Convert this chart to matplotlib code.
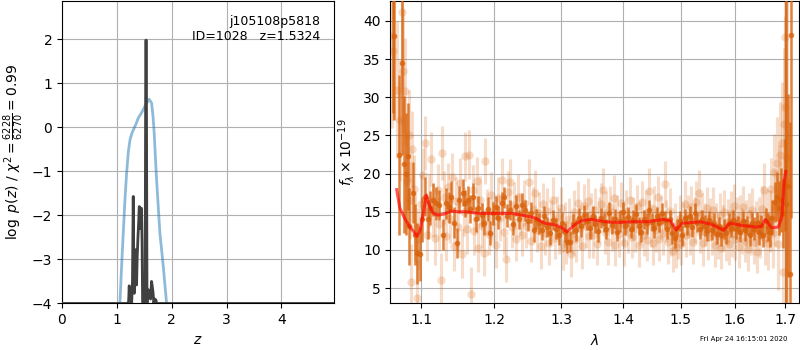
import numpy as np
import matplotlib
matplotlib.use("Agg")
import matplotlib.pyplot as plt
from matplotlib.ticker import NullLocator

# --- p(z) panel ---
z_pz = [0.0, 1.20, 1.215, 1.226, 1.235, 1.27, 1.285, 1.299, 1.31, 1.317, 1.33,
        1.342, 1.35, 1.36, 1.37, 1.385, 1.40, 1.408, 1.42, 1.43, 1.44, 1.45,
        1.46, 1.47, 1.515, 1.528, 1.537, 1.55, 1.56, 1.572, 1.585, 1.60,
        1.615, 1.633, 1.645, 1.66, 1.675, 1.69, 1.712, 1.725, 4.96]
logpz = [-4, -4, -3.95, -3.6, -4, -4, -3.5, -1.57, -3.2, -3.77, -3.4,
         -2.78, -3.3, -3.58, -3.0, -2.5, -2.1, -1.80, -1.82, -2.3, -1.85, -1.84,
         -2.6, -4, -4, 1.98, 1.98, -4, -3.8, -3.69, -3.75, -3.7,
         -3.9, -3.5, -3.6, -3.75, -4, -3.9, -3.92, -4, -4]

z_chi = [1.03, 1.056, 1.085, 1.117, 1.15, 1.178, 1.21, 1.239, 1.27, 1.30, 1.35,
         1.39, 1.44, 1.48, 1.54, 1.59, 1.634, 1.66, 1.681, 1.70, 1.725, 1.755,
         1.785, 1.85, 1.907, 1.93]
chi_scaled = [-4.8, -4.0, -3.2, -2.40, -1.6, -1.04, -0.55, -0.29, -0.15, -0.06, 0.08,
              0.21, 0.31, 0.40, 0.55, 0.64, 0.55, 0.25, -0.13, -0.6, -1.19, -1.8,
              -2.40, -3.2, -4.0, -4.4]

# --- spectrum panel ---
model_lam = [1.068, 1.072, 1.078, 1.085, 1.090, 1.0942, 1.098, 1.102, 1.1066, 1.110,
             1.115, 1.120, 1.125, 1.130, 1.140, 1.150, 1.160, 1.170, 1.180, 1.195,
             1.210, 1.225, 1.245, 1.260, 1.275, 1.290, 1.300, 1.309, 1.316, 1.3245,
             1.335, 1.3485, 1.370, 1.390, 1.4172, 1.440, 1.469, 1.482, 1.4915, 1.502,
             1.520, 1.535, 1.555, 1.570, 1.579, 1.591, 1.600, 1.615, 1.630, 1.643,
             1.652, 1.6596, 1.666, 1.672, 1.686, 1.693, 1.698, 1.701]
model_flux = [17.9, 15.5, 14.2, 13.0, 12.4, 11.8, 12.5, 14.5, 17.2, 16.0,
              14.9, 14.6, 14.6, 14.7, 15.1, 15.0, 15.0, 14.9, 14.8, 14.8,
              14.8, 14.8, 14.5, 14.2, 13.5, 13.3, 13.0, 12.4, 12.9, 13.5,
              13.9, 14.0, 13.7, 13.6, 13.7, 13.7, 14.0, 13.8, 12.6, 13.5,
              13.6, 13.7, 13.4, 12.9, 12.6, 13.5, 13.4, 13.2, 13.1, 13.0,
              13.1, 14.0, 13.5, 12.9, 13.0, 14.4, 19.2, 20.3]

bin_lam = [1.0628, 1.0650, 1.0705, 1.0747, 1.0778, 1.0799, 1.0821, 1.0843, 1.0886, 1.0915,
           1.0942, 1.0977, 1.1010, 1.1052, 1.1092, 1.1120, 1.1150, 1.1193, 1.1240, 1.1283,
           1.1329, 1.1374, 1.1395, 1.1443, 1.1478, 1.1513, 1.1557, 1.1589, 1.1627, 1.1663,
           1.1698, 1.1743, 1.1778, 1.1823, 1.1862, 1.1908, 1.1942, 1.1979, 1.2020, 1.2060,
           1.2107, 1.2150, 1.2190, 1.2235, 1.2275, 1.2320, 1.2360, 1.2405, 1.2450, 1.2490,
           1.2535, 1.2580, 1.2620, 1.2665, 1.2702, 1.2745, 1.2790, 1.2835, 1.2880, 1.2925,
           1.2970, 1.3015, 1.3060, 1.3100, 1.3140, 1.3185, 1.3230, 1.3275, 1.3320, 1.3365,
           1.3410, 1.3455, 1.3500, 1.3545, 1.3590, 1.3635, 1.3680, 1.3725, 1.3770, 1.3815,
           1.3860, 1.3905, 1.3950, 1.3995, 1.4040, 1.4085, 1.4130, 1.4175, 1.4220, 1.4265,
           1.4310, 1.4355, 1.4400, 1.4445, 1.4490, 1.4535, 1.4580, 1.4625, 1.4670, 1.4715,
           1.4760, 1.4805, 1.4850, 1.4895, 1.4940, 1.4985, 1.5030, 1.5075, 1.5120, 1.5165,
           1.5210, 1.5255, 1.5300, 1.5345, 1.5390, 1.5435, 1.5480, 1.5525, 1.5570, 1.5615,
           1.5660, 1.5705, 1.5750, 1.5795, 1.5840, 1.5885, 1.5930, 1.5975, 1.6020, 1.6065,
           1.6110, 1.6155, 1.6200, 1.6245, 1.6290, 1.6335, 1.6380, 1.6425, 1.6470, 1.6515,
           1.6560, 1.6605, 1.6650, 1.6695, 1.6740, 1.6785, 1.6830, 1.6870, 1.6910, 1.6950,
           1.6990, 1.7010, 1.7065, 1.7100, 1.7125]
bin_flux = [44.0, 38.0, 22.4, 34.5, 21.2, 19.9, 22.3, 13.1, 17.5, 12.0,
            9.6, 9.5, 14.0, 17.0, 14.0, 15.5, 16.6, 16.1, 15.9, 12.0,
            16.1, 15.6, 17.0, 13.6, 10.9, 16.6, 17.5, 16.1, 16.6, 15.4,
            17.0, 14.0, 15.5, 14.6, 13.5, 15.4, 12.2, 14.8, 15.6, 14.2,
            16.1, 16.9, 14.5, 15.2, 13.4, 15.8, 14.0, 15.9, 15.2, 13.8,
            14.9, 12.6, 14.1, 13.5, 12.6, 14.4, 13.0, 12.2, 13.9, 12.8,
            11.9, 13.6, 12.3, 11.1, 11.1, 13.4, 12.6, 14.2, 13.1, 14.6,
            13.8, 12.9, 14.5, 13.4, 12.5, 14.2, 13.6, 12.7, 14.9, 13.3,
            14.1, 12.4, 13.8, 15.0, 13.2, 14.3, 12.8, 13.9, 14.7, 13.1,
            12.4, 14.0, 13.5, 15.2, 13.7, 12.9, 14.4, 13.6, 14.8, 13.9,
            12.8, 14.1, 12.2, 11.6, 12.9, 13.8, 11.9, 14.2, 13.3, 14.5,
            13.0, 14.8, 13.6, 12.7, 14.0, 13.2, 12.5, 13.9, 12.6, 13.4,
            12.1, 13.1, 11.9, 12.8, 12.2, 13.6, 12.9, 13.9, 12.7, 13.3,
            12.4, 13.8, 12.6, 13.2, 12.0, 13.5, 12.8, 13.6, 12.3, 13.1,
            12.0, 13.8, 13.0, 12.4, 14.2, 16.3, 17.0, 15.5, 16.5, 14.8,
            18.5, 16.0, 18.4, 6.8, 38.2]
bin_err = [16.0, 11.0, 10.5, 12.0, 9.0, 8.0, 7.0, 5.0, 4.0, 4.0,
           4.0, 3.5, 3.0, 2.5, 2.5, 2.2, 2.2, 2.2, 2.0, 2.0,
           2.0, 2.0, 2.0, 2.0, 2.0, 1.8, 1.8, 1.8, 1.8, 1.8,
           1.8, 1.6, 1.6, 1.6, 1.6, 1.6, 1.6, 1.5, 1.5, 1.5,
           1.5, 1.4, 1.5, 1.3, 1.5, 1.4, 1.3, 1.5, 1.4, 1.3,
           1.4, 1.5, 1.3, 1.4, 1.3, 1.4, 1.3, 1.5, 1.3, 1.4,
           1.3, 1.4, 1.3, 1.5, 1.4, 1.3, 1.4, 1.3, 1.4, 1.3,
           1.2, 1.4, 1.3, 1.2, 1.4, 1.3, 1.2, 1.3, 1.4, 1.2,
           1.3, 1.2, 1.4, 1.3, 1.2, 1.3, 1.2, 1.4, 1.3, 1.2,
           1.3, 1.2, 1.4, 1.3, 1.2, 1.3, 1.2, 1.3, 1.4, 1.2,
           1.3, 1.2, 1.4, 1.3, 1.2, 1.3, 1.4, 1.2, 1.3, 1.2,
           1.3, 1.4, 1.2, 1.3, 1.2, 1.4, 1.3, 1.2, 1.3, 1.4,
           1.3, 1.2, 1.4, 1.3, 1.4, 1.3, 1.2, 1.4, 1.3, 1.2,
           1.4, 1.3, 1.4, 1.3, 1.5, 1.4, 1.5, 1.4, 1.6, 1.5,
           1.6, 1.7, 1.8, 2.0, 2.3, 2.6, 3.2, 3.6, 4.2, 4.5,
           6.0, 30.0, 12.0, 20.0, 24.0]

raw_lam = [1.0615, 1.0630, 1.0690, 1.0725, 1.0753, 1.0762, 1.0786, 1.0810, 1.0835, 1.0850,
           1.0869, 1.0876, 1.0900, 1.0920, 1.0942, 1.0960, 1.0990, 1.1020, 1.1054, 1.1075,
           1.1100, 1.1130, 1.1160, 1.1185, 1.1215, 1.1240, 1.1257, 1.1270, 1.1300, 1.1325,
           1.1350, 1.1380, 1.1410, 1.1435, 1.1460, 1.1490, 1.1520, 1.1545, 1.1570, 1.1591,
           1.1615, 1.1640, 1.1670, 1.1695, 1.1720, 1.1750, 1.1775, 1.1800, 1.1830, 1.1855,
           1.1872, 1.1900, 1.1930, 1.1960, 1.1990, 1.2020, 1.2050, 1.2080, 1.2110, 1.2140,
           1.2177, 1.2200, 1.2230, 1.2260, 1.2290, 1.2320, 1.2350, 1.2380, 1.2410, 1.2440,
           1.2470, 1.2515, 1.2545, 1.2575, 1.2605, 1.2635, 1.2665, 1.2695, 1.2725, 1.2755,
           1.2785, 1.2815, 1.2845, 1.2875, 1.2905, 1.2935, 1.2965, 1.2995, 1.3025, 1.3055,
           1.3085, 1.3120, 1.3154, 1.3180, 1.3210, 1.3240, 1.3270, 1.3300, 1.3330, 1.3360,
           1.3390, 1.3420, 1.3450, 1.3480, 1.3510, 1.3540, 1.3570, 1.3600, 1.3630, 1.3665,
           1.3695, 1.3725, 1.3755, 1.3785, 1.3815, 1.3845, 1.3875, 1.3905, 1.3935, 1.3965,
           1.3995, 1.4025, 1.4055, 1.4085, 1.4115, 1.4145, 1.4175, 1.4205, 1.4235, 1.4265,
           1.4295, 1.4325, 1.4355, 1.4385, 1.4415, 1.4445, 1.4475, 1.4505, 1.4535, 1.4565,
           1.4595, 1.4625, 1.4655, 1.4685, 1.4715, 1.4745, 1.4775, 1.4805, 1.4835, 1.4865,
           1.4895, 1.4925, 1.4955, 1.4985, 1.5015, 1.5045, 1.5075, 1.5105, 1.5135, 1.5165,
           1.5195, 1.5225, 1.5255, 1.5285, 1.5325, 1.5355, 1.5385, 1.5415, 1.5445, 1.5475,
           1.5505, 1.5535, 1.5565, 1.5595, 1.5625, 1.5655, 1.5685, 1.5715, 1.5745, 1.5775,
           1.5805, 1.5835, 1.5865, 1.5895, 1.5925, 1.5955, 1.5985, 1.6015, 1.6045, 1.6075,
           1.6105, 1.6135, 1.6165, 1.6195, 1.6225, 1.6255, 1.6285, 1.6315, 1.6345, 1.6375,
           1.6405, 1.6435, 1.6465, 1.6495, 1.6525, 1.6566, 1.6595, 1.6625, 1.6655, 1.6685,
           1.6715, 1.6745, 1.6775, 1.6800, 1.6825, 1.6850, 1.6875, 1.6900, 1.6925, 1.6945,
           1.6965, 1.6985, 1.6995, 1.7015, 1.7040]
raw_flux = [38.0, 36.0, 31.0, 27.0, 41.2, 33.5, 30.8, 19.0, 25.0, 16.5,
            5.8, 23.2, 18.0, 13.0, 3.7, 11.5, 16.0, 19.8, 24.0, 12.0,
            16.5, 21.9, 15.2, 11.6, 17.8, 13.4, 6.1, 22.7, 16.9, 11.8,
            18.2, 14.1, 19.5, 10.5, 16.4, 13.0, 18.8, 9.5, 15.0, 22.3,
            12.7, 22.5, 4.3, 17.9, 12.5, 19.0, 10.3, 16.5, 13.2, 9.6,
            21.7, 15.0, 12.1, 17.2, 13.8, 10.6, 16.8, 14.2, 19.2, 12.3,
            8.8, 17.6, 18.9, 13.0, 15.9, 11.4, 17.0, 14.6, 12.0, 16.2,
            13.1, 18.9, 11.2, 15.4, 17.5, 12.6, 14.8, 10.5, 16.0, 12.2,
            15.1, 10.9, 13.7, 16.6, 11.6, 14.3, 12.5, 15.5, 10.2, 13.3,
            11.0, 14.0, 9.5, 12.2, 15.0, 11.4, 16.2, 12.9, 10.5, 15.8,
            13.1, 16.4, 11.8, 14.6, 12.0, 15.3, 10.8, 13.9, 16.0, 17.8,
            12.3, 14.9, 11.1, 15.6, 12.7, 16.8, 10.7, 14.4, 12.1, 16.1,
            13.4, 10.9, 15.0, 12.4, 16.5, 11.7, 14.1, 12.8, 15.7, 10.6,
            13.6, 16.3, 12.0, 14.8, 11.3, 17.7, 13.2, 10.9, 15.4, 12.6,
            16.9, 11.5, 14.3, 12.2, 18.6, 13.8, 11.0, 15.1, 12.0, 9.9,
            13.1, 10.4, 11.6, 14.2, 10.8, 13.5, 16.0, 11.9, 14.4, 12.3,
            15.6, 11.0, 13.9, 16.3, 17.5, 12.4, 14.7, 10.9, 13.3, 15.5,
            11.7, 14.0, 12.2, 15.2, 10.6, 13.4, 11.8, 14.6, 10.3, 12.9,
            15.0, 11.4, 13.7, 10.8, 14.9, 12.1, 15.8, 11.5, 13.9, 10.4,
            14.4, 12.5, 15.6, 11.2, 13.5, 10.1, 14.7, 12.3, 15.3, 11.0,
            13.4, 9.8, 14.1, 12.0, 15.4, 17.9, 11.6, 14.5, 10.9, 13.8,
            18.0, 12.2, 20.2, 15.5, 21.4, 10.8, 17.8, 22.4, 24.0, 7.1,
            26.5, 28.7, 37.9, 19.0, 22.0]
raw_err = [12.0, 9.0, 9.0, 8.0, 10.0, 8.0, 7.0, 6.0, 6.0, 5.0,
           5.0, 5.0, 4.5, 4.5, 5.0, 4.0, 4.0, 3.5, 3.5, 3.5,
           3.5, 3.5, 3.5, 3.5, 3.5, 3.5, 3.5, 3.5, 3.5, 3.2,
           3.2, 3.2, 3.2, 3.2, 3.2, 3.2, 3.2, 3.2, 3.2, 3.2,
           3.2, 3.2, 3.5, 3.2, 3.2, 3.2, 3.2, 3.2, 3.0, 3.0,
           3.0, 3.0, 2.8, 3.0, 2.8, 3.0, 2.8, 3.0, 2.8, 3.0,
           3.0, 2.8, 3.0, 2.8, 3.0, 2.8, 3.0, 2.8, 2.8, 3.0,
           2.8, 3.0, 2.8, 2.8, 3.0, 2.8, 2.8, 3.0, 2.8, 2.8,
           3.0, 2.8, 2.8, 3.0, 2.8, 2.8, 3.0, 2.8, 2.8, 3.0,
           2.8, 2.8, 3.0, 2.8, 2.8, 3.0, 2.8, 2.8, 3.0, 2.8,
           2.8, 3.0, 2.8, 2.8, 3.0, 2.8, 2.8, 3.0, 2.8, 3.0,
           2.8, 2.8, 3.0, 2.8, 2.8, 3.0, 2.8, 2.8, 3.0, 2.8,
           2.8, 3.0, 2.8, 2.8, 3.0, 2.8, 2.8, 3.0, 2.8, 2.8,
           3.0, 2.8, 2.8, 3.0, 2.8, 3.0, 2.8, 2.8, 3.0, 2.8,
           2.8, 3.0, 2.8, 2.8, 3.0, 2.8, 2.8, 3.0, 2.8, 2.8,
           3.0, 2.8, 2.8, 3.0, 2.8, 2.8, 3.0, 2.8, 2.8, 3.0,
           2.8, 2.8, 3.0, 2.8, 3.0, 2.8, 2.8, 3.0, 2.8, 2.8,
           3.0, 2.8, 2.8, 3.0, 2.8, 2.8, 3.0, 2.8, 2.8, 3.0,
           2.8, 2.8, 3.0, 2.8, 2.8, 3.0, 2.8, 2.8, 3.0, 2.8,
           2.8, 3.0, 2.8, 2.8, 3.0, 2.8, 2.8, 3.0, 2.8, 2.8,
           3.0, 2.8, 2.8, 3.0, 3.0, 3.5, 3.5, 3.5, 3.5, 4.0,
           4.0, 4.5, 5.0, 5.0, 6.0, 6.0, 6.0, 7.0, 8.0, 9.0,
           10.0, 12.0, 20.0, 25.0, 30.0]

lam_ticks = [1.1, 1.2, 1.3, 1.4, 1.5, 1.6, 1.7]
flux_ticks = [5, 10, 15, 20, 25, 30, 35, 40]

orange = '#d9620b'

fig = plt.figure(figsize=(8, 3.5), dpi=100)
ax1 = fig.add_axes([0.0775, 0.133, 0.340, 0.864])
ax2 = fig.add_axes([0.488, 0.133, 0.511, 0.864])

# left: p(z)
ax1.plot(z_chi, chi_scaled, color='#1f77b4', alpha=0.5, lw=2, zorder=2)
ax1.plot(z_pz, logpz, color='#404040', lw=2, zorder=3)
ax1.set_xlim(0, 4.96)
ax1.set_ylim(-4, 2.87)
ax1.set_xticks([0, 1, 2, 3, 4])
ax1.set_yticks([-4, -3, -2, -1, 0, 1, 2])
ax1.grid(True)
ax1.set_xlabel('$z$')
ax1.set_ylabel(r'$\log\ p(z)$ / $\chi^2=\frac{6228}{6270}=0.99$')
ax1.text(0.95, 0.955, 'j105108p5818\nID=1028   z=1.5324', transform=ax1.transAxes,
         ha='right', va='top', fontsize=9)

# right: spectrum
ax2.errorbar(raw_lam, raw_flux, yerr=raw_err, fmt='o', color=orange, alpha=0.22,
             ms=6, elinewidth=2.2, mec='none', zorder=2)
ax2.errorbar(bin_lam, bin_flux, yerr=bin_err, fmt='o', color=orange, alpha=0.8,
             ms=4, elinewidth=1.8, mec='none', zorder=3)
ax2.plot(model_lam, model_flux, color='r', alpha=0.65, lw=2.2, zorder=4)
ax2.set_xscale('log')
ax2.set_xlim(1.06, 1.7285)
ax2.set_ylim(3.0, 42.6)
ax2.set_xticks(lam_ticks)
ax2.set_xticklabels([str(t) for t in lam_ticks])
ax2.xaxis.set_minor_locator(NullLocator())
ax2.set_yticks(flux_ticks)
ax2.grid(True)
ax2.set_axisbelow(True)
ax2.set_xlabel(r'$\lambda$')
ax2.set_ylabel(r'$f_\lambda\times10^{-19}$')

fig.text(0.985, 0.022, 'Fri Apr 24 16:15:01 2020', ha='right', va='bottom', fontsize=5)

fig.savefig('out.png', dpi=100)
